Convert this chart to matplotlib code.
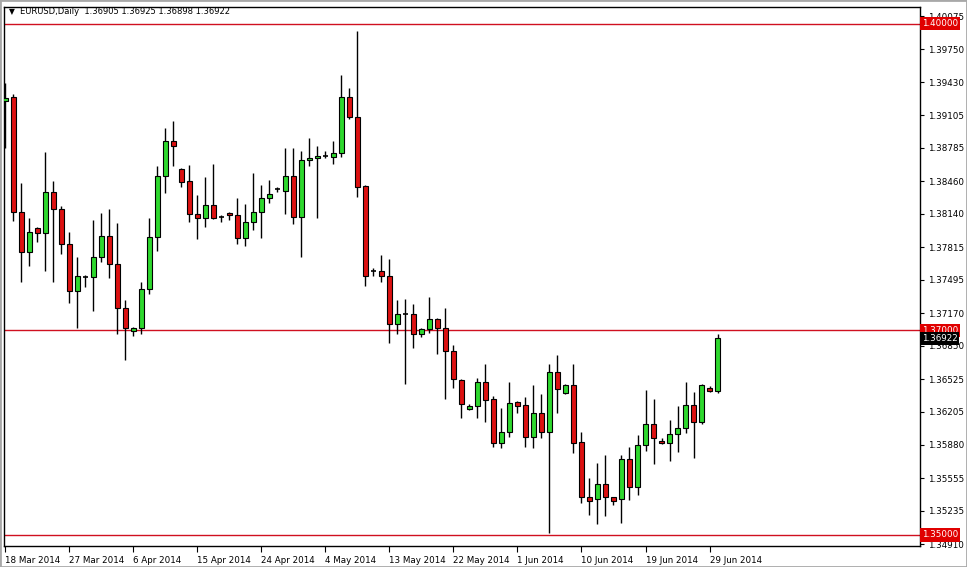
# -*- coding: utf-8 -*-
"""
EURUSD daily candles (MT4 style chart) with horizontal levels at 1.40 / 1.37 / 1.35
"""

#%% load required packages
import matplotlib.pyplot as plt
from matplotlib.patches import Rectangle

# %% data (one value per daily candle, 18 Mar 2014 -> 1 Jul 2014)
opens = [1.39245, 1.39284, 1.38159, 1.37768, 1.38002, 1.37954, 1.38355, 1.38188, 1.37846, 1.37386,
         1.37523, 1.37523, 1.37719, 1.37924, 1.37650, 1.37220, 1.36995, 1.37024, 1.37406, 1.37914,
         1.38511, 1.38853, 1.38579, 1.38462, 1.38139, 1.38100, 1.38227, 1.38110, 1.38149, 1.38130,
         1.37900, 1.38061, 1.38159, 1.38296, 1.38384, 1.38364, 1.38511, 1.38110, 1.38667, 1.38687,
         1.38707, 1.38697, 1.38736, 1.39284, 1.39088, 1.38413, 1.37582, 1.37582, 1.37533, 1.37064,
         1.37161, 1.37161, 1.36966, 1.37015, 1.37112, 1.37024, 1.36804, 1.36516, 1.36232, 1.36262,
         1.36496, 1.36330, 1.35900, 1.36007, 1.36301, 1.36271, 1.35958, 1.36193, 1.36007, 1.36594,
         1.36389, 1.36467, 1.35910, 1.35372, 1.35352, 1.35499, 1.35372, 1.35352, 1.35743, 1.35469,
         1.35880, 1.36086, 1.35919, 1.35900, 1.35988, 1.36046, 1.36271, 1.36105, 1.36438, 1.36408]
highs = [1.39421, 1.39313, 1.38443, 1.38100, 1.38012, 1.38746, 1.38462, 1.38218, 1.37963, 1.37719,
         1.37538, 1.38081, 1.38149, 1.38188, 1.38051, 1.37298, 1.37034, 1.37474, 1.38100, 1.38609,
         1.38980, 1.39049, 1.38589, 1.38619, 1.38325, 1.38501, 1.38628, 1.38130, 1.38159, 1.38296,
         1.38237, 1.38540, 1.38423, 1.38472, 1.38403, 1.38785, 1.38785, 1.38756, 1.38883, 1.38804,
         1.38756, 1.38853, 1.39499, 1.39372, 1.39929, 1.38423, 1.37611, 1.37738, 1.37699, 1.37298,
         1.37308, 1.37259, 1.37024, 1.37328, 1.37122, 1.37220, 1.36858, 1.36526, 1.36281, 1.36535,
         1.36672, 1.36359, 1.36242, 1.36496, 1.36310, 1.36350, 1.36467, 1.36379, 1.36672, 1.36760,
         1.36477, 1.36672, 1.36007, 1.35557, 1.35704, 1.35782, 1.35372, 1.35782, 1.35861, 1.35978,
         1.36418, 1.36330, 1.35949, 1.36125, 1.36262, 1.36496, 1.36399, 1.36477, 1.36457, 1.36966]
lows = [1.38785, 1.38071, 1.37474, 1.37631, 1.37866, 1.37582, 1.37474, 1.37748, 1.37269, 1.37024,
        1.37425, 1.37191, 1.37670, 1.37513, 1.36966, 1.36711, 1.36946, 1.36966, 1.37357, 1.37778,
        1.38345, 1.38609, 1.38403, 1.38061, 1.37895, 1.38012, 1.38090, 1.38061, 1.38081, 1.37846,
        1.37826, 1.37983, 1.37905, 1.38247, 1.38355, 1.38139, 1.38042, 1.37719, 1.38609, 1.38100,
        1.38687, 1.38628, 1.38697, 1.39069, 1.38306, 1.37435, 1.37533, 1.37474, 1.36878, 1.36966,
        1.36477, 1.36829, 1.36936, 1.36976, 1.36770, 1.36330, 1.36438, 1.36144, 1.36222, 1.36144,
        1.36105, 1.35861, 1.35851, 1.35958, 1.36193, 1.35861, 1.35851, 1.35949, 1.35020, 1.36193,
        1.36379, 1.35802, 1.35313, 1.35196, 1.35108, 1.35186, 1.35293, 1.35117, 1.35342, 1.35391,
        1.35822, 1.35694, 1.35890, 1.35724, 1.35812, 1.35998, 1.35753, 1.36086, 1.36399, 1.36389]
closes = [1.39274, 1.38159, 1.37768, 1.37963, 1.37954, 1.38355, 1.38188, 1.37846, 1.37386, 1.37533,
          1.37523, 1.37719, 1.37924, 1.37650, 1.37220, 1.37024, 1.37020, 1.37406, 1.37914, 1.38511,
          1.38853, 1.38804, 1.38452, 1.38139, 1.38100, 1.38227, 1.38100, 1.38110, 1.38130, 1.37900,
          1.38061, 1.38159, 1.38296, 1.38335, 1.38384, 1.38511, 1.38110, 1.38667, 1.38687, 1.38707,
          1.38707, 1.38736, 1.39284, 1.39088, 1.38403, 1.37533, 1.37582, 1.37533, 1.37064, 1.37161,
          1.37161, 1.36966, 1.37015, 1.37112, 1.37024, 1.36804, 1.36526, 1.36281, 1.36262, 1.36496,
          1.36320, 1.35900, 1.36007, 1.36291, 1.36262, 1.35958, 1.36193, 1.36007, 1.36594, 1.36428,
          1.36467, 1.35900, 1.35372, 1.35333, 1.35499, 1.35372, 1.35333, 1.35743, 1.35469, 1.35880,
          1.36086, 1.35949, 1.35900, 1.35988, 1.36046, 1.36271, 1.36105, 1.36467, 1.36408, 1.36922]

date_labels = ["18 Mar 2014", "27 Mar 2014", "6 Apr 2014", "15 Apr 2014", "24 Apr 2014", "4 May 2014",
               "13 May 2014", "22 May 2014", "1 Jun 2014", "10 Jun 2014", "19 Jun 2014", "29 Jun 2014"]
label_every = 8   # one date label every 8 bars

price_ticks = [1.40075, 1.39750, 1.39430, 1.39105, 1.38785, 1.38460, 1.38140, 1.37815, 1.37495,
               1.37170, 1.36850, 1.36525, 1.36205, 1.35880, 1.35555, 1.35235, 1.34910]
levels = [1.40000, 1.37000, 1.35000]   # red horizontal lines
last_price = 1.36922
title_text = "EURUSD,Daily  1.36905 1.36925 1.36898 1.36922"

# %% colours / font size
col_up = "#2ed82e"
col_dn = "#dd1111"
col_lvl = "#d01020"
fs = 6.3

# %% figure with the plot area placed like the MT4 window
W, H = 967, 567
fig = plt.figure(figsize=(W / 100, H / 100), dpi=100)
ax = fig.add_axes([4 / W, (H - 546) / H, (920 - 4) / W, (546 - 7) / H])
ax.set_xlim(-0.16, 114.3)
ax.set_ylim(1.34892, 1.40164)

# horizontal levels
for lv in levels:
    ax.axhline(lv, color=col_lvl, lw=1, zorder=1)

# candles -------------------------------------------------------------------
xs = list(range(len(opens)))
ax.vlines(xs, lows, highs, color="black", lw=1, zorder=2)
for x, o, c in zip(xs, opens, closes):
    if c == o:
        ax.hlines(o, x - 0.35, x + 0.35, color="black", lw=1.2, zorder=3)   # doji
    else:
        ax.bar(x, abs(c - o), bottom=min(o, c), width=0.6,
               color=col_up if c > o else col_dn, edgecolor="black", linewidth=0.8, zorder=3)

# axes styling --------------------------------------------------------------
for sp in ax.spines.values():
    sp.set_color("black")
    sp.set_linewidth(1)

ax.yaxis.tick_right()
ax.set_yticks(price_ticks)
ax.set_yticklabels(["%.5f" % t for t in price_ticks])
ax.tick_params(axis="y", direction="out", length=3, width=0.8, pad=3, labelsize=fs)

ax.set_xticks([i * label_every for i in range(len(date_labels))])
ax.set_xticklabels(date_labels, ha="left")
ax.tick_params(axis="x", direction="out", length=4, width=0.8, pad=3, labelsize=fs)

# price labels on the right axis
yt = ax.get_yaxis_transform()
for lv in levels:
    ax.text(1.002, lv, "%.5f" % lv, transform=yt, ha="left", va="center", fontsize=fs,
            color="white", clip_on=False, zorder=5,
            bbox=dict(boxstyle="square,pad=0.25", fc="#e00000", ec="none"))
ax.text(1.002, last_price, "%.5f" % last_price, transform=yt, ha="left", va="center", fontsize=fs,
        color="white", clip_on=False, zorder=5,
        bbox=dict(boxstyle="square,pad=0.2", fc="black", ec="none"))

# title in the top left corner
fig.text(9 / W, 1 - 12 / H, "\u25bc", fontsize=5.5, va="center", ha="left")
fig.text(20 / W, 1 - 12 / H, title_text, fontsize=6.0, va="center", ha="left")

# window border
fig.add_artist(Rectangle((0, 0), 1, 1, transform=fig.transFigure, fill=False, ec="#a8a8a8", lw=2))

fig.savefig("out.png", dpi=100)
